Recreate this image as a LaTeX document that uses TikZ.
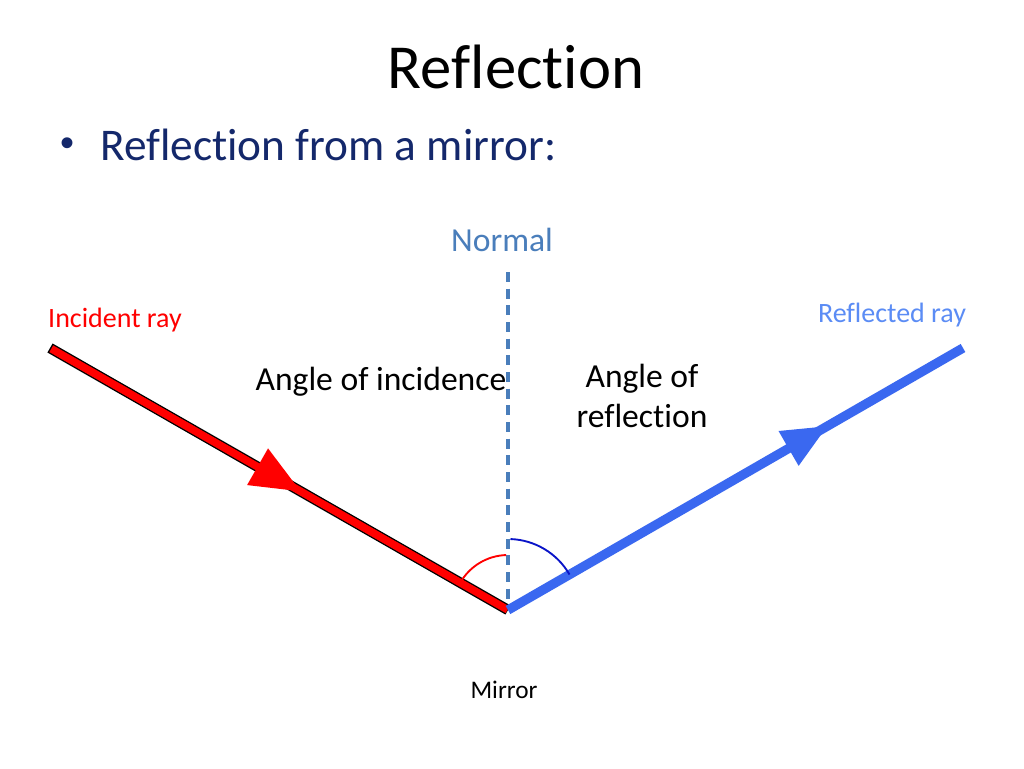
\documentclass[tikz,border=0pt]{standalone}
\usepackage{fontspec}
\setmainfont[Ligatures={NoCommon}]{Carlito}
\newfontfamily\bulletfam{Liberation Sans}
\usetikzlibrary{arrows.meta,decorations.markings}
\definecolor{navy}{HTML}{14286B}
\definecolor{normalblue}{HTML}{4A7EBB}
\definecolor{rayblue}{HTML}{3A68F0}
\definecolor{lightblue}{HTML}{5B8CF5}
\definecolor{arcblue}{HTML}{0A14C8}
\tikzset{
  txt/.style={inner sep=0pt, anchor=base},
  titlefont/.style={font=\fontsize{47}{56}\selectfont},
  bulletfont/.style={font=\fontsize{34}{41}\selectfont, text=navy},
  bodyfont/.style={font=\fontsize{25.2}{30}\selectfont},
  smallfont/.style={font=\fontsize{21}{25}\selectfont},
  normalline/.style={normalblue, line width=2.5pt, dash pattern=on 7.5pt off 5pt},
  arcline/.style={line width=1.4pt},
}
\begin{document}
\begin{tikzpicture}[x=0.75pt,y=-0.75pt]
\useasboundingbox (0,0) rectangle (1024,768);
\fill[white] (0,0) rectangle (1024,768);
% titles
\node[txt, titlefont] (title) at (516,88) {Reflection};
\node[txt, font=\bulletfam\fontsize{30}{36}\selectfont, text=navy] (bul) at (68,156) {•};
\node[txt, bulletfont, anchor=base west] (sub) at (100,160) {Reflection from a mirror:};
% geometry
\coordinate (S) at (50,348);
\coordinate (V) at (508,610);
\coordinate (E) at (963,348);
\coordinate (N) at (508,272);
\draw[normalline] (N) -- (V);
% incident ray
\draw[black, line width=7.8pt] (S) -- (V);
\draw[red, line width=5.8pt, shorten <=1.1pt, shorten >=0.4pt,
  postaction={decorate},
  decoration={markings, mark=at position 0.548 with {\arrow[red]{Triangle[length=37.5pt,width=30pt]}}}] (S) -- (V);
% reflected ray
\draw[rayblue, line width=7pt,
  postaction={decorate},
  decoration={markings, mark=at position 0.703 with {\arrow[rayblue]{Triangle[length=34pt,width=28pt]}}}] (V) -- (E);
% angle arcs
\draw[red, arcline] ([shift={(210:55)}]V) arc[start angle=210, end angle=268, radius=55];
\draw[arcblue, arcline] ([shift={(272:71)}]V) arc[start angle=272, end angle=330, radius=71];
% labels
\node[txt, bodyfont, text=normalblue] (normal) at (502,251) {Normal};
\node[txt, smallfont, text=red] (inc) at (115,327) {Incident ray};
\node[txt, smallfont, text=lightblue] (refl) at (892,322) {Reflected ray};
\node[txt, bodyfont] (aoi) at (381,390) {Angle of incidence};
\node[txt, bodyfont, align=center] (aor1) at (642,387) {Angle of};
\node[txt, bodyfont, align=center] (aor2) at (642,427) {reflection};
\node[txt, font=\fontsize{19}{23}\selectfont] (mirror) at (504,698) {Mirror};
\end{tikzpicture}
\end{document}
